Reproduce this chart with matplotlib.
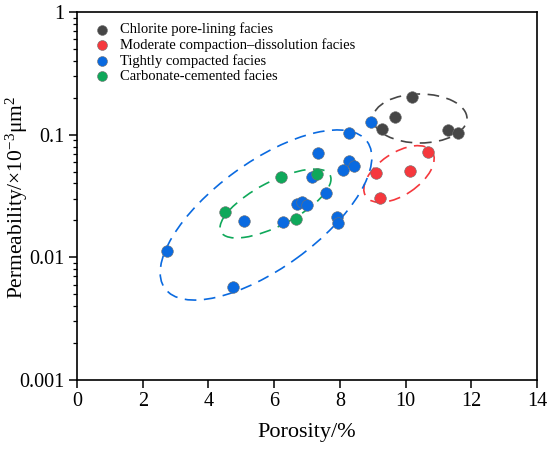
import numpy as np
import matplotlib
matplotlib.use("Agg")
import matplotlib.pyplot as plt
from matplotlib.patches import Ellipse
from matplotlib.transforms import Affine2D
from matplotlib.ticker import LogLocator, FixedLocator, NullFormatter

plt.rcParams['font.family'] = ['Liberation Serif', 'DejaVu Serif']
plt.rcParams['mathtext.fontset'] = 'custom'
plt.rcParams['mathtext.rm'] = 'Liberation Serif'
plt.rcParams['mathtext.it'] = 'Liberation Serif:italic'

# 数据 (孔隙度 %, 渗透率 ×10^-3 μm^2)
chlorite_x = [10.19, 9.68, 9.27, 11.30, 11.59]
chlorite_y = [0.204, 0.140, 0.111, 0.109, 0.104]

moderate_x = [10.67, 9.10, 10.13, 9.22]
moderate_y = [0.0726, 0.0484, 0.0506, 0.0306]

tight_x = [8.95, 8.28, 7.32, 8.28, 8.44, 8.10, 7.14, 7.57, 6.69, 6.86, 7.01,
           5.09, 6.26, 7.90, 7.93, 2.73, 4.76]
tight_y = [0.128, 0.103, 0.0705, 0.0613, 0.0558, 0.0515, 0.0449, 0.0333, 0.0271,
           0.0284, 0.0269, 0.0198, 0.0195, 0.0212, 0.0190, 0.0113, 0.0057]

carbonate_x = [6.20, 7.30, 4.50, 6.66]
carbonate_y = [0.0454, 0.0475, 0.0233, 0.0204]

labels = ['Chlorite pore-lining facies',
          'Moderate compaction\u2013dissolution facies',
          'Tightly compacted facies',
          'Carbonate-cemented facies']
colors = ['#464646', '#f5383d', '#0a6ae0', '#0fa85a']

# 圈定范围 (轴内像素单位: 中心x, 中心y, 宽, 高, 角度)
ellipse_cx = [343, 322, 189, 198.5]
ellipse_cy = [261.5, 206, 165, 176.5]
ellipse_w = [94, 80, 250, 123]
ellipse_h = [49, 42, 106, 44]
ellipse_angle = [0, 34, 36, 27.5]

fig = plt.figure(figsize=(5.5, 4.5), dpi=100)
ax = fig.add_axes([77 / 550, 70 / 450, 460 / 550, 368 / 450])

groups = [(chlorite_x, chlorite_y), (moderate_x, moderate_y),
          (tight_x, tight_y), (carbonate_x, carbonate_y)]
for (gx, gy), c, lab in zip(groups, colors, labels):
    ax.scatter(gx, gy, s=70, color=c, edgecolors='#707070', linewidths=0.4,
               label=lab, zorder=3)

# 椭圆用轴像素坐标画, 避免对数轴变形
px_trans = Affine2D().scale(1 / 460, 1 / 368) + ax.transAxes
for cx, cy, w, h, ang, c in zip(ellipse_cx, ellipse_cy, ellipse_w, ellipse_h,
                                 ellipse_angle, colors):
    e = Ellipse((cx, cy), w, h, angle=ang, transform=px_trans, fill=False,
                edgecolor=c, linewidth=1.2, linestyle=(0, (7, 4.5)), zorder=2)
    ax.add_patch(e)

ax.set_xlim(0, 14)
ax.set_yscale('log')
ax.set_ylim(0.001, 1)
ax.xaxis.set_major_locator(FixedLocator([0, 2, 4, 6, 8, 10, 12, 14]))
ax.set_yticks([0.001, 0.01, 0.1, 1])
ax.set_yticklabels(['0.001', '0.01', '0.1', '1'])
ax.yaxis.set_minor_locator(LogLocator(base=10, subs=np.arange(2, 10)))
ax.yaxis.set_minor_formatter(NullFormatter())

ax.tick_params(axis='both', which='major', direction='out', length=6,
               width=1.1, labelsize=14.5, top=False, right=False, pad=3)
ax.tick_params(axis='y', which='minor', direction='out', length=3, width=0.9,
               right=False)
for sp in ax.spines.values():
    sp.set_linewidth(1.2)

ax.set_xlabel('Porosity/%', fontsize=16, labelpad=8)
ax.set_ylabel('Permeability/\u00d710$^{-3}$\u03bcm$^{2}$', fontsize=15.5)
ax.yaxis.set_label_coords(-0.103, 0.497)

ax.legend(loc='upper left', bbox_to_anchor=(0.026, 0.987), frameon=False,
          fontsize=10.5, handlelength=1.0, handletextpad=0.75,
          labelspacing=0.14, markerscale=0.85, borderaxespad=0)

fig.savefig('out.png', dpi=100)
